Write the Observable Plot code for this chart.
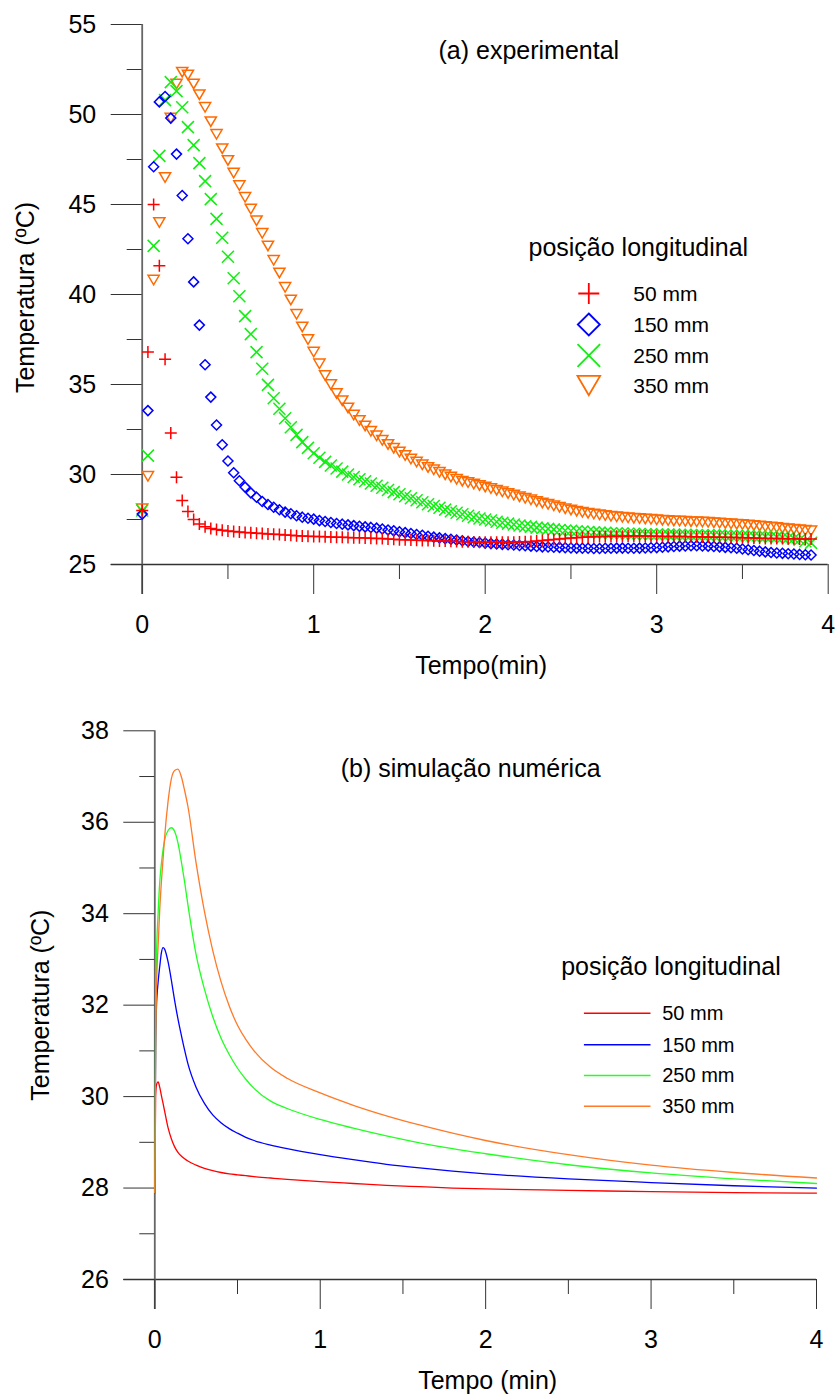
<!DOCTYPE html>
<html><head><meta charset="utf-8">
<script src="https://cdn.jsdelivr.net/npm/d3@7"></script>
<script src="https://cdn.jsdelivr.net/npm/@observablehq/plot@0.6"></script>
<style>
body{margin:0;background:#fff;}
#chart{width:839px;}
#chart svg{display:block;}
</style></head><body><div id="chart"></div>
<script>
// ---------- data ----------
const positions = ["50 mm","150 mm","250 mm","350 mm"];
const legendTitle = "posição longitudinal";
const titleA = "(a) experimental";
const titleB = "(b) simulação numérica";
const yLabel = "Temperatura (ºC)";
const xLabelA = "Tempo(min)";
const xLabelB = "Tempo (min)";

// experimental sampling times (seconds)
const timeSeconds = [0,2,4,6,8,10,12,14,16,18,20,22,24,26,28,30,32,34,36,38,40,42,44,46,48,50,52,54,56,58,
60,62,64,66,68,70,72,74,76,78,80,82,84,86,88,90,92,94,96,98,100,102,104,106,108,110,112,114,116,118,
120,122,124,126,128,130,132,134,136,138,140,142,144,146,148,150,152,154,156,158,160,162,164,166,168,170,172,174,176,178,
180,182,184,186,188,190,192,194,196,198,200,202,204,206,208,210,212,214,216,218,220,222,224,226,228,230,232,234];

const exp50 = [28.0,36.8,45.0,41.6,36.4,32.3,29.85,28.55,27.95,27.5,
27.25,27.1,27.0,26.95,26.9,26.86,26.83,26.8,26.78,26.76,
26.74,26.72,26.7,26.68,26.66,26.64,26.62,26.6,26.58,26.57,
26.56,26.55,26.54,26.53,26.52,26.51,26.5,26.49,26.48,26.47,
26.46,26.45,26.44,26.42,26.4,26.38,26.37,26.36,26.35,26.34,
26.33,26.32,26.31,26.3,26.29,26.28,26.27,26.26,26.25,26.25,
26.24,26.24,26.23,26.23,26.23,26.24,26.25,26.26,26.28,26.3,
26.33,26.36,26.39,26.42,26.45,26.47,26.49,26.51,26.53,26.54,
26.55,26.56,26.57,26.57,26.57,26.58,26.58,26.58,26.58,26.57,
26.57,26.56,26.56,26.55,26.55,26.55,26.54,26.54,26.53,26.53,
26.52,26.52,26.51,26.5,26.5,26.49,26.48,26.47,26.46,26.45,
26.45,26.44,26.44,26.43,26.43,26.42,26.42,26.41];

const exp150 = [27.8,33.55,47.1,50.7,51.0,49.8,47.8,45.5,43.1,40.7,
38.3,36.1,34.3,32.75,31.65,30.75,30.1,29.65,29.3,28.98,
28.74,28.5,28.33,28.18,28.04,27.91,27.82,27.71,27.63,27.57,
27.52,27.44,27.39,27.33,27.28,27.24,27.2,27.16,27.12,27.09,
27.06,27.02,26.97,26.92,26.87,26.82,26.77,26.72,26.67,26.62,
26.57,26.52,26.48,26.44,26.4,26.36,26.32,26.28,26.25,26.22,
26.19,26.16,26.14,26.12,26.1,26.08,26.06,26.04,26.02,26.0,
25.98,25.97,25.96,25.95,25.93,25.92,25.91,25.9,25.9,25.89,
25.89,25.9,25.9,25.91,25.91,25.9,25.9,25.91,25.92,25.93,
25.94,25.96,25.98,26.0,26.02,26.03,26.04,26.04,26.03,26.02,
26.0,25.98,25.95,25.93,25.9,25.86,25.82,25.78,25.74,25.7,
25.67,25.64,25.62,25.6,25.58,25.56,25.54,25.53];

const exp250 = [28.0,31.05,42.7,47.7,50.8,51.8,51.3,50.4,49.3,48.3,
47.3,46.3,45.3,44.2,43.15,42.1,40.9,39.9,38.8,37.8,
36.8,35.87,34.98,34.24,33.65,33.13,32.63,32.2,31.8,31.48,
31.18,30.93,30.7,30.5,30.33,30.16,30.0,29.86,29.74,29.62,
29.5,29.38,29.26,29.14,29.02,28.9,28.79,28.68,28.57,28.46,
28.35,28.25,28.15,28.05,27.96,27.87,27.79,27.71,27.63,27.56,
27.5,27.44,27.38,27.32,27.27,27.22,27.17,27.13,27.09,27.05,
27.01,26.98,26.95,26.92,26.89,26.87,26.85,26.83,26.81,26.79,
26.77,26.76,26.74,26.73,26.72,26.71,26.7,26.69,26.68,26.68,
26.67,26.67,26.66,26.66,26.65,26.65,26.64,26.64,26.63,26.63,
26.62,26.62,26.61,26.6,26.6,26.59,26.58,26.57,26.56,26.55,
26.54,26.52,26.5,26.47,26.43,26.37,26.29,26.2];

const exp350 = [28.1,29.9,40.8,44.0,46.5,49.8,51.7,52.35,52.2,51.7,
51.1,50.4,49.6,48.9,48.1,47.45,46.75,46.05,45.4,44.75,
44.1,43.4,42.7,41.9,41.2,40.4,39.7,38.9,38.2,37.5,
36.8,36.15,35.5,35.0,34.5,34.1,33.7,33.3,33.0,32.7,
32.4,32.15,31.9,31.67,31.46,31.25,31.05,30.86,30.69,30.54,
30.39,30.26,30.12,29.99,29.86,29.73,29.63,29.55,29.47,29.39,
29.31,29.22,29.13,29.04,28.95,28.86,28.77,28.68,28.59,28.5,
28.42,28.34,28.26,28.18,28.1,28.03,27.96,27.9,27.85,27.8,
27.76,27.72,27.68,27.65,27.62,27.59,27.57,27.55,27.53,27.51,
27.48,27.46,27.44,27.42,27.41,27.4,27.38,27.37,27.36,27.34,
27.32,27.3,27.28,27.26,27.24,27.22,27.2,27.17,27.14,27.11,
27.08,27.05,27.02,26.99,26.96,26.93,26.9,26.87];

// numerical simulation (minutes)
const simTime = [0,0.005,0.01,0.02,0.03,0.04,0.05,0.06,0.08,0.1,0.12,0.14,0.16,0.18,0.2,0.25,0.3,0.35,0.4,0.45,0.5,0.55,0.6,0.7,0.8,1.0,1.2,1.4,1.6,1.8,2.0,2.5,3.0,3.5,4.0];
const sim50  = [27.9,30.0,30.25,30.32,30.2,30.02,29.85,29.67,29.32,29.08,28.9,28.78,28.7,28.64,28.59,28.5,28.43,28.38,28.34,28.31,28.29,28.27,28.25,28.22,28.19,28.14,28.1,28.06,28.03,28.0,27.98,27.95,27.92,27.9,27.89];
const sim150 = [27.9,31.0,31.95,32.5,32.85,33.15,33.26,33.22,32.95,32.55,32.1,31.7,31.35,31.02,30.72,30.2,29.85,29.6,29.43,29.3,29.2,29.11,29.04,28.94,28.86,28.73,28.62,28.52,28.44,28.37,28.31,28.2,28.12,28.05,28.0];
const sim250 = [27.9,31.5,33.0,34.0,34.7,35.1,35.4,35.62,35.82,35.88,35.8,35.55,35.15,34.7,34.2,33.1,32.35,31.75,31.28,30.92,30.62,30.38,30.18,29.9,29.74,29.5,29.31,29.14,28.99,28.86,28.75,28.51,28.33,28.2,28.1];
const sim350 = [27.9,31.0,32.3,33.3,34.1,34.7,35.2,35.7,36.45,36.95,37.13,37.16,37.0,36.7,36.35,35.1,34.05,33.2,32.52,31.98,31.56,31.25,31.0,30.64,30.4,30.08,29.81,29.58,29.38,29.2,29.04,28.73,28.5,28.34,28.22];

// ticks
const xTicks = [0,1,2,3,4];
const xMinor = [0.5,1.5,2.5,3.5];
const yTicksA = [25,30,35,40,45,50,55];
const yMinorA = [27.5,32.5,37.5,42.5,47.5,52.5];
const yTicksB = [26,28,30,32,34,36,38];
const yMinorB = [27,29,31,33,35,37];

// ---------- styles ----------
const FONT = "'Liberation Sans', Arial, Helvetica, sans-serif";
const colA = ["#ff0000","#0000ff","#11ee11","#ff6a00"];
const colB = ["#ff0000","#0000ff","#22ff22","#ff7a28"];
const AXIS = "#333";
const fmt = d => `${d}`;

const rad = s => Math.sqrt(s / Math.PI);
const symPlus = {draw(c,s){const h=rad(s);c.moveTo(-h,0);c.lineTo(h,0);c.moveTo(0,-h);c.lineTo(0,h);}};
const symDiamond = {draw(c,s){const h=rad(s);c.moveTo(0,-h);c.lineTo(h,0);c.lineTo(0,h);c.lineTo(-h,0);c.closePath();}};
const symTimes = {draw(c,s){const h=rad(s);c.moveTo(-h,-h);c.lineTo(h,h);c.moveTo(-h,h);c.lineTo(h,-h);}};
const symTri = {draw(c,s){const h=rad(s);c.moveTo(-h,-0.85*h);c.lineTo(h,-0.85*h);c.lineTo(0,0.85*h);c.closePath();}};
const symLine = {draw(c,s){const h=rad(s);c.moveTo(-h,0);c.lineTo(h,0);}};
const symbolsA = [symPlus, symDiamond, symTimes, symTri];
const rData = [6, 5, 6, 5.6];
const rLegend = [10.5, 11, 11.3, 11.3];

const expSeries = [exp50, exp150, exp250, exp350];
const simSeries = [sim50, sim150, sim250, sim350];

const txt = (s, o) => Plot.text([s], {text: d => d, lineAnchor: "middle", fill: "#000", ...o});

// ---------- chart (a) ----------
const A = {W:839, H:700, mt:24, mb:136, ml:141.7, mr:11.3};
const drawOrder = [3,2,1,0];
const marksA = [
  Plot.ruleY([25], {stroke: AXIS, strokeWidth: 1.3, insetLeft: -31}),
  Plot.ruleX([0], {stroke: "#666", strokeWidth: 1.8, insetBottom: -30}),
  Plot.axisY({ticks: yTicksA, tickSize: 31, tickPadding: 15, fontSize: 25, label: null, tickFormat: fmt, stroke: AXIS, fill: "#000"}),
  Plot.axisY({ticks: yMinorA, tickSize: 15, tickFormat: () => "", label: null, stroke: AXIS}),
  Plot.axisX({ticks: xTicks, tickSize: 30, tickPadding: 21, fontSize: 25, label: null, tickFormat: fmt, stroke: AXIS, fill: "#000"}),
  Plot.axisX({ticks: xMinor, tickSize: 15, tickFormat: () => "", label: null, stroke: AXIS}),
  ...drawOrder.map(k => Plot.dot(timeSeconds.map((s,i) => ({t: s/60, v: expSeries[k][i]})), {
    x: "t", y: "v", symbol: symbolsA[k], r: rData[k], stroke: colA[k], fill: "none", strokeWidth: 1.5
  })),
  txt(titleA, {frameAnchor: "top", textAnchor: "middle", dx: 43.6, dy: 26.5, fontSize: 25}),
  txt(yLabel, {frameAnchor: "left", textAnchor: "middle", dx: -116, dy: 3, rotate: -90, fontSize: 25}),
  txt(xLabelA, {frameAnchor: "bottom", textAnchor: "middle", dx: -4, dy: 101, fontSize: 25}),
  txt(legendTitle, {frameAnchor: "top-left", textAnchor: "start", dx: 528 - A.ml, dy: 247 - A.mt, fontSize: 25}),
];
const rowsA = [293, 324, 355, 385];
positions.forEach((p, k) => {
  marksA.push(Plot.dot([p], {frameAnchor: "top-left", dx: 588.3 - A.ml, dy: rowsA[k] - A.mt, symbol: symbolsA[k], r: rLegend[k], stroke: colA[k], fill: "none", strokeWidth: 1.8}));
  marksA.push(txt(p, {frameAnchor: "top-left", textAnchor: "start", dx: 632.7 - A.ml, dy: rowsA[k] - A.mt + 0.5, fontSize: 21}));
});

const plotA = Plot.plot({
  width: A.W, height: A.H, marginTop: A.mt, marginBottom: A.mb, marginLeft: A.ml, marginRight: A.mr,
  x: {domain: [0, 4]}, y: {domain: [25, 55]},
  style: {fontFamily: FONT, background: "#fff", overflow: "visible"},
  marks: marksA
});

// ---------- chart (b) ----------
const B = {W:839, H:696, mt:30.3, mb:117, ml:154.3, mr:23};
const marksB = [
  Plot.ruleY([26], {stroke: AXIS, strokeWidth: 1.3, insetLeft: -31}),
  Plot.ruleX([0], {stroke: "#666", strokeWidth: 1.8, insetBottom: -30}),
  Plot.axisY({ticks: yTicksB, tickSize: 31, tickPadding: 15, fontSize: 25, label: null, tickFormat: fmt, stroke: AXIS, fill: "#000"}),
  Plot.axisY({ticks: yMinorB, tickSize: 15, tickFormat: () => "", label: null, stroke: AXIS}),
  Plot.axisX({ticks: xTicks, tickSize: 30, tickPadding: 21, fontSize: 25, label: null, tickFormat: fmt, stroke: AXIS, fill: "#000"}),
  Plot.axisX({ticks: xMinor, tickSize: 15, tickFormat: () => "", label: null, stroke: AXIS}),
  ...[0,1,2,3].map(k => Plot.line(simTime.map((t,i) => ({t, v: simSeries[k][i]})), {
    x: "t", y: "v", stroke: colB[k], strokeWidth: 1.3, curve: "monotone-x"
  })),
  txt(titleB, {frameAnchor: "top", textAnchor: "middle", dx: -15, dy: 37.7, fontSize: 25}),
  txt(yLabel, {frameAnchor: "left", textAnchor: "middle", dx: -114.3, rotate: -90, fontSize: 25}),
  txt(xLabelB, {frameAnchor: "bottom", textAnchor: "middle", dx: 2, dy: 101, fontSize: 25}),
  txt(legendTitle, {frameAnchor: "top-left", textAnchor: "start", dx: 560.7 - B.ml, dy: 966.7 - 700 - B.mt, fontSize: 25}),
];
const rowsB = [1012.7, 1044.3, 1075, 1105.7];
positions.forEach((p, k) => {
  marksB.push(Plot.dot([p], {frameAnchor: "top-left", dx: 616.7 - B.ml, dy: rowsB[k] - 700 - B.mt, symbol: symLine, r: 33.3, stroke: colB[k], fill: "none", strokeWidth: 1.5}));
  marksB.push(txt(p, {frameAnchor: "top-left", textAnchor: "start", dx: 661.7 - B.ml, dy: rowsB[k] - 700 - B.mt + 0.5, fontSize: 20}));
});

const plotB = Plot.plot({
  width: B.W, height: B.H, marginTop: B.mt, marginBottom: B.mb, marginLeft: B.ml, marginRight: B.mr,
  x: {domain: [0, 4]}, y: {domain: [26, 38]},
  style: {fontFamily: FONT, background: "#fff", overflow: "visible"},
  marks: marksB
});

const root = document.getElementById("chart");
root.append(plotA, plotB);
</script>
</body></html>
